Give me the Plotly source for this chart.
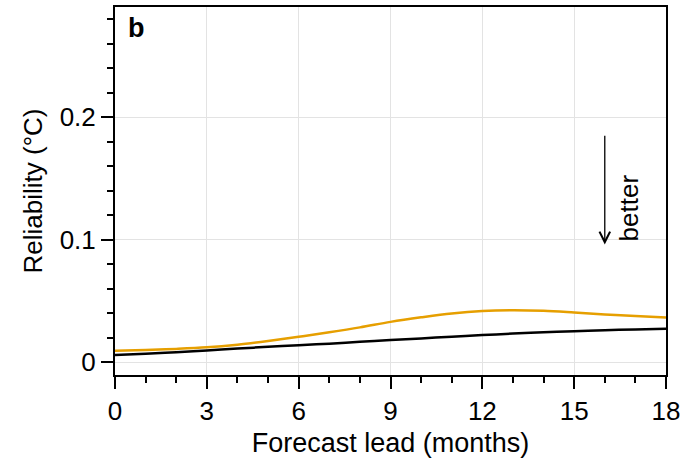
import plotly.graph_objects as go

lead_months = list(range(0, 19))
orange_series = [0.0092, 0.0098, 0.0107, 0.0120, 0.0142, 0.0172, 0.0206, 0.0243, 0.0283,
                 0.0328, 0.0365, 0.0397, 0.0417, 0.0423, 0.0418, 0.0404, 0.0388, 0.0375, 0.0363]
black_series = [0.0057, 0.0068, 0.0080, 0.0095, 0.0110, 0.0124, 0.0138, 0.0150, 0.0165,
                0.0179, 0.0193, 0.0207, 0.0220, 0.0232, 0.0243, 0.0252, 0.0260, 0.0266, 0.0271]
x_ticks = [0, 3, 6, 9, 12, 15, 18]
y_ticks = [0, 0.1, 0.2]
y_tick_labels = ["0", "0.1", "0.2"]

FONT = "Liberation Sans, Arial, Helvetica, sans-serif"
FS = 26

fig = go.Figure()
fig.add_trace(go.Scatter(x=lead_months, y=orange_series, mode="lines",
                         line=dict(color="#E69F00", width=2.5, shape="spline"),
                         showlegend=False))
fig.add_trace(go.Scatter(x=lead_months, y=black_series, mode="lines",
                         line=dict(color="#000000", width=2.5, shape="spline"),
                         showlegend=False))

# "better" arrow
fig.add_annotation(x=16, y=0.096, ax=16, ay=0.186, xref="x", yref="y", axref="x", ayref="y",
                   showarrow=True, arrowhead=5, arrowsize=1.6, arrowwidth=1.3, arrowcolor="black",
                   text="")
fig.add_annotation(x=16.78, y=0.126, xref="x", yref="y", text="better", textangle=-90,
                   showarrow=False, font=dict(family=FONT, size=FS, color="black"))
fig.add_annotation(x=0.02, y=0.988, xref="paper", yref="paper", text="<b>b</b>",
                   showarrow=False, xanchor="left", yanchor="top",
                   font=dict(family=FONT, size=27, color="black"))

fig.update_xaxes(range=[0, 18], tickvals=x_ticks, ticks="outside", ticklen=12, tickwidth=1.5,
                 tickcolor="black", showline=True, linecolor="black", linewidth=2, mirror=True,
                 showgrid=True, gridcolor="#e3e3e3", gridwidth=1, zeroline=False,
                 minor=dict(dtick=1, ticks="outside", ticklen=6, tickcolor="black", showgrid=False),
                 tickfont=dict(family=FONT, size=FS, color="black"),
                 title=dict(text="Forecast lead (months)", font=dict(family=FONT, size=27, color="black"),
                            standoff=8))
fig.update_yaxes(range=[-0.0106, 0.29], tickvals=y_ticks, ticktext=y_tick_labels, ticks="outside",
                 ticklen=12, tickwidth=1.5, tickcolor="black", showline=True, linecolor="black",
                 linewidth=2, mirror=True, showgrid=True, gridcolor="#e3e3e3", gridwidth=1,
                 zeroline=False,
                 minor=dict(tick0=0, dtick=0.02, ticks="outside", ticklen=6, tickcolor="black",
                            showgrid=False),
                 tickfont=dict(family=FONT, size=FS, color="black"),
                 title=dict(text="Reliability (°C)", font=dict(family=FONT, size=FS, color="black"),
                            standoff=10))

fig.update_layout(width=685, height=462, margin=dict(l=115, r=17, t=5, b=87),
                  plot_bgcolor="white", paper_bgcolor="white")

fig.write_html("out.html")
